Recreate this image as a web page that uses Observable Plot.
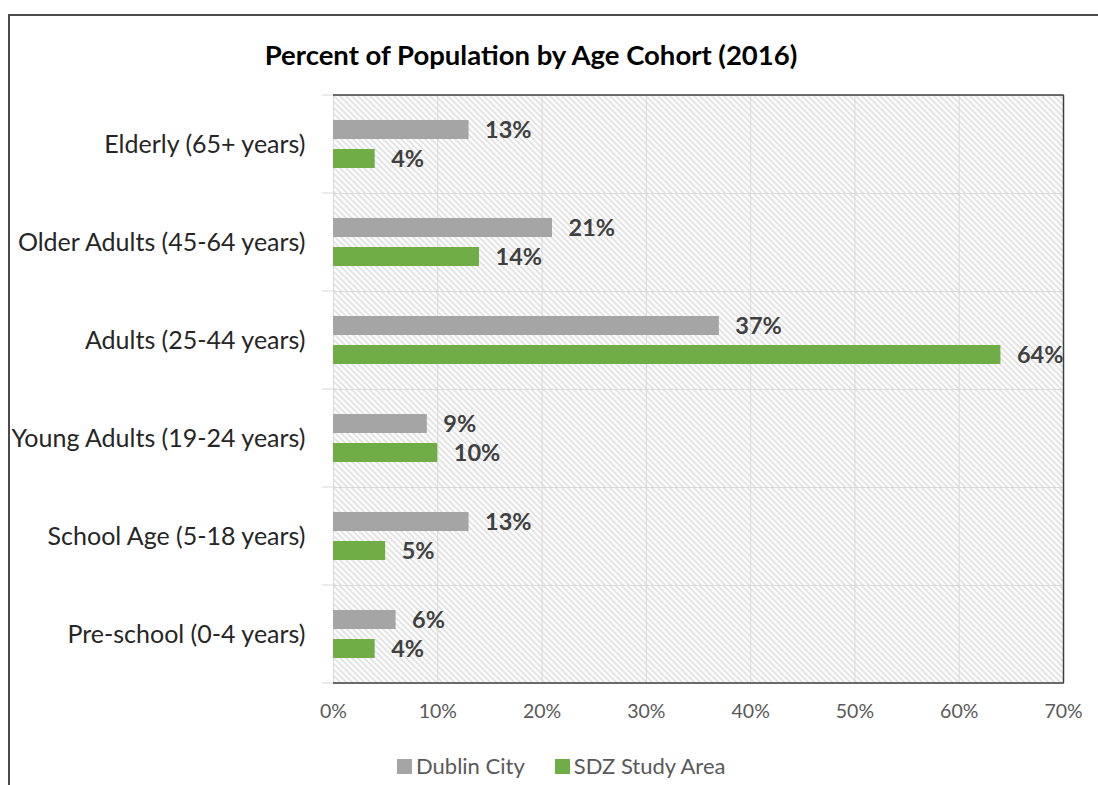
<!DOCTYPE html>
<html>
<head>
<meta charset="utf-8">
<script src="https://cdn.jsdelivr.net/npm/d3@7"></script>
<script src="https://cdn.jsdelivr.net/npm/@observablehq/plot@0.6"></script>
<style>
  body { margin: 0; background: #fff; font-family: Lato, "Open Sans", sans-serif; }
  #page { position: relative; width: 1098px; height: 785px; overflow: hidden; background: #fff; }
  #border { position: absolute; left: 8px; top: 14px; width: 1200px; height: 900px;
            border-left: 2px solid #4a4a4a; border-top: 2px solid #4a4a4a; }
  #title { position: absolute; left: 0; top: 40px; width: 1062px; text-align: center;
           font-weight: bold; font-size: 27.5px; line-height: 30px; color: #000; }
  #chart { position: absolute; left: 0; top: 80px; }
  #legend { position: absolute; left: 397px; top: 753px; display: flex; align-items: center;
            font-size: 22px; color: #595959; line-height: 26px; }
  #legend .item { display: flex; align-items: center; margin-right: 30px; }
  #legend .swatch { width: 15px; height: 15px; margin-right: 4px; }
</style>
</head>
<body>
<div id="page">
  <div id="border"></div>
  <div id="title">Percent of Population by Age Cohort (2016)</div>
  <div id="chart"></div>
  <div id="legend"></div>
</div>
<script>
// Age cohorts, top to bottom
const categories = [
  "Elderly (65+ years)",
  "Older Adults (45-64 years)",
  "Adults (25-44 years)",
  "Young Adults (19-24 years)",
  "School Age (5-18 years)",
  "Pre-school (0-4 years)"
];
const series = ["Dublin City", "SDZ Study Area"];
const seriesColors = ["#a5a5a5", "#70ad47"];

// Percent of population in each cohort
const dublinCity   = [13, 21, 37, 9, 13, 6];
const sdzStudyArea = [4, 14, 64, 10, 5, 4];

const xTicks = [0, 10, 20, 30, 40, 50, 60, 70];

const rows = categories.flatMap((c, i) => [
  {cohort: c, area: series[0], pct: dublinCity[i]},
  {cohort: c, area: series[1], pct: sdzStudyArea[i]}
]);

const chart = Plot.plot({
  width: 1098,
  height: 650,
  marginTop: 15,
  marginBottom: 47,
  marginLeft: 333,
  marginRight: 35,
  style: {fontFamily: "Lato, 'Open Sans', sans-serif", background: "transparent", overflow: "visible"},
  x: {domain: [0, 70], label: null},
  fy: {domain: categories, padding: 0, label: null},
  y: {domain: series, paddingInner: 0.345, paddingOuter: 0.862, axis: null},
  color: {domain: series, range: seriesColors},
  marks: [
    Plot.frame({fill: "url(#hatch)", stroke: "#d9d9d9"}),
    Plot.gridX(xTicks, {stroke: "#d9d9d9", strokeOpacity: 1}),
    Plot.ruleX([70], {stroke: "#404040", strokeWidth: 1.5}),
    Plot.barX(rows, {x: "pct", y: "area", fy: "cohort", fill: "area"}),
    Plot.text(rows, {
      x: "pct", y: "area", fy: "cohort",
      text: d => d.pct + "%",
      textAnchor: "start", dx: 16,
      fontWeight: "bold", fontSize: 23.5, fill: "#404040"
    }),
    Plot.axisX(xTicks, {
      anchor: "bottom", tickSize: 0, tickPadding: 21,
      tickFormat: d => d + "%", fontSize: 19.5, fill: "#595959"
    }),
    Plot.axisFy({
      anchor: "left", tickSize: 0, tickPadding: 28,
      fontSize: 25, fill: "#262626", label: null
    })
  ]
});

// Diagonal hatch used as the plot-area background
d3.select(chart).insert("defs", ":first-child").html(
  `<pattern id="hatch" patternUnits="userSpaceOnUse" width="6" height="6">
     <rect width="6" height="6" fill="#ffffff"/>
     <path d="M-1,-1L7,7M-1,5L1,7M5,-1L7,1" stroke="#d8d8d8" stroke-width="1.5"/>
   </pattern>`
);

// Dark top/bottom edges of the plot area and category boundary ticks
const xs = chart.scale("x"), fys = chart.scale("fy");
const xStart = xs.apply(0), xEnd = xs.apply(70);
const yTop = fys.range[0], yBottom = fys.range[1];
const bounds = categories.map(c => fys.apply(c)).concat([yBottom]);
const g = d3.select(chart).append("g");
g.selectAll("line.tick").data(bounds).join("line")
  .attr("x1", xStart - 11).attr("x2", xStart).attr("y1", d => d).attr("y2", d => d)
  .attr("stroke", "#d9d9d9");
g.selectAll("line.edge").data([yTop, yBottom]).join("line")
  .attr("x1", xStart).attr("x2", xEnd + 0.75).attr("y1", d => d).attr("y2", d => d)
  .attr("stroke", "#404040").attr("stroke-width", 1.5);

document.getElementById("chart").appendChild(chart);

// Legend
const legend = d3.select("#legend");
series.forEach((s, i) => {
  const item = legend.append("div").attr("class", "item");
  item.append("div").attr("class", "swatch").style("background", seriesColors[i]);
  item.append("span").text(s);
});
</script>
</body>
</html>
